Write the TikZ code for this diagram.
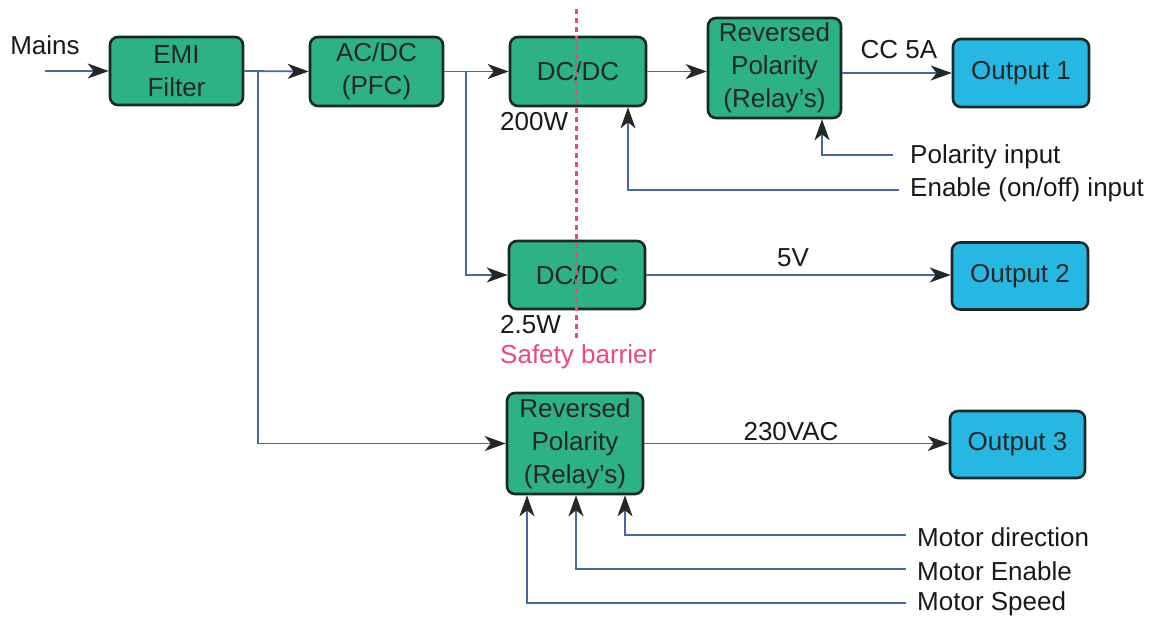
\documentclass[tikz,border=0pt]{standalone}
\usepackage{fontspec}
\setmainfont{Liberation Sans}
\usetikzlibrary{arrows.meta,calc}
\definecolor{boxgreen}{RGB}{44,178,133}
\definecolor{boxblue}{RGB}{38,184,226}
\definecolor{wire}{RGB}{70,105,165}
\definecolor{barrier}{RGB}{236,70,130}
\definecolor{edge}{RGB}{25,40,40}
\begin{document}
\begin{tikzpicture}[x=1pt,y=-1pt,
  lab/.style={font=\fontsize{26}{33}\selectfont, text=black!90, inner sep=0pt},
  blk/.style={draw=edge, line width=2.6pt, rounded corners=8pt, inner sep=0pt,
    align=center, font=\fontsize{26}{33}\selectfont, text=black!85},
  gbox/.style={blk, fill=boxgreen},
  bbox/.style={blk, fill=boxblue},
  wireline/.style={draw=wire, line width=1.8pt},
  arr/.style={wireline, -{Stealth[length=21pt,width=15pt,inset=6pt,color=black!85]}}]
\useasboundingbox (0,0) rectangle (1154,618);

% blocks
\node[gbox, minimum width=133pt, minimum height=68pt] (emi) at (176.5,71) {EMI\\Filter};
\node[gbox, minimum width=133pt, minimum height=69pt] (acdc) at (376.5,71.5) {AC/DC\\(PFC)};
\node[gbox, minimum width=136pt, minimum height=69pt] (dc1) at (578,71.5) {DC/DC};
\node[gbox, minimum width=133pt, minimum height=100pt] (rp1) at (774.5,68) {Reversed\\Polarity\\(Relay's)};
\node[bbox, minimum width=136pt, minimum height=68pt] (out1) at (1021,73) {Output 1};
\node[gbox, minimum width=136pt, minimum height=68pt] (dc2) at (577,275) {DC/DC};
\node[bbox, minimum width=136pt, minimum height=67pt] (out2) at (1020,276) {Output 2};
\node[gbox, minimum width=136pt, minimum height=101pt] (rp2) at (575,443.5) {Reversed\\Polarity\\(Relay's)};
\node[bbox, minimum width=135pt, minimum height=67pt] (out3) at (1017.5,444.5) {Output 3};

% free ends
\coordinate (mainsin) at (45,71);
\coordinate (br1) at (258,71);
\coordinate (br2) at (466,71);
\coordinate (polend) at (893,155);
\coordinate (enend) at (899,190);
\coordinate (mdend) at (906,535);
\coordinate (meend) at (906,569);
\coordinate (msend) at (906,603);

% connectors
\draw[arr] (mainsin) -- (emi.west);
\draw[arr] (emi.east) -- (acdc.west);
\draw[arr] (br1) |- (rp2.west);
\draw[arr] (acdc.east) -- (dc1.west);
\draw[arr] (br2) |- (dc2.west);
\draw[arr] (dc1.east) -- (dc1.east -| rp1.west);
\draw[arr] (rp1.east |- out1.west) -- (out1.west);
\draw[arr] (polend) -| ([xshift=47.5pt]rp1.south);
\draw[arr] (enend) -| ([xshift=50pt]dc1.south);
\draw[arr] (dc2.east) -- (out2.west |- dc2.east);
\draw[arr] (rp2.east) -- (out3.west |- rp2.east);
\draw[arr] (mdend) -| ([xshift=50pt]rp2.south);
\draw[arr] (meend) -| ([xshift=1pt]rp2.south);
\draw[arr] (msend) -| ([xshift=-48pt]rp2.south);

% labels
\node[lab] (tmains) at (45,45) {Mains};
\node[lab] (tcc) at (899,50) {CC 5A};
\node[lab] (t5v) at (793,258) {5V};
\node[lab] (t230) at (791,432) {230VAC};
\node[lab, anchor=west] (t200) at (500,122) {200W};
\node[lab, anchor=west] (t25) at (500,325) {2.5W};
\node[lab, anchor=west] (tpol) at (910,157) {Polarity input};
\node[lab, anchor=west] (ten) at (910,190) {Enable (on/off) input};
\node[lab, anchor=west] (tmd) at (917,537) {Motor direction};
\node[lab, anchor=west] (tme) at (917,571) {Motor Enable};
\node[lab, anchor=west] (tms) at (917,604) {Motor Speed};

% safety barrier
\coordinate (sbtop) at (576,9);
\coordinate (sbbot) at (576,340);
\draw[barrier, line width=3pt, dash pattern=on 5pt off 4pt] (sbtop) -- (sbbot);
\node[lab, text=barrier, anchor=west] (tsb) at (500,357) {Safety barrier};
\end{tikzpicture}
\end{document}
